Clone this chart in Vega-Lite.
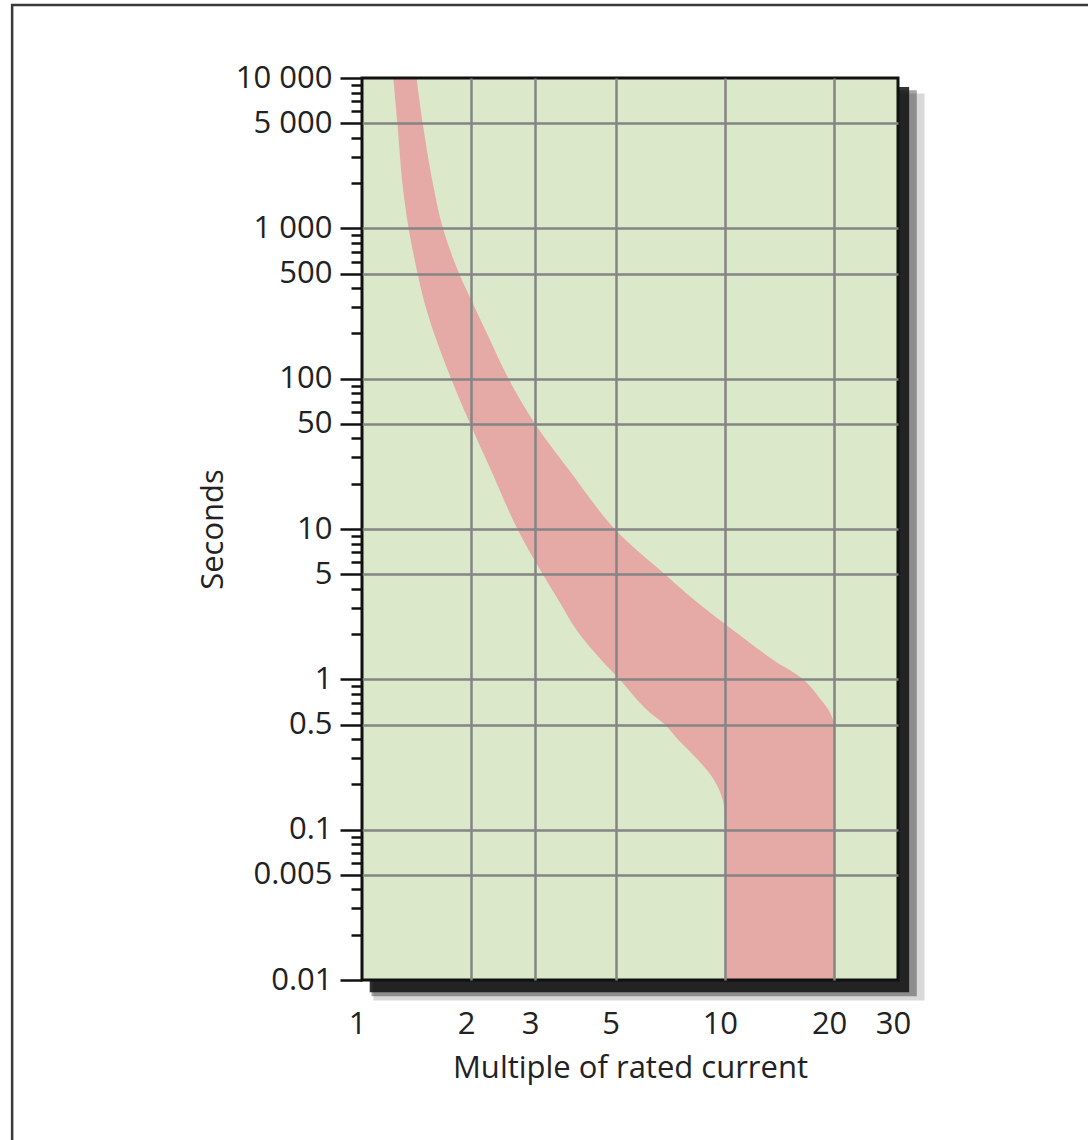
{
  "$schema": "https://vega.github.io/schema/vega-lite/v6.json",
  "width": 536,
  "height": 902,
  "autosize": {"type": "none"},
  "padding": {"left": 362, "top": 78, "right": 190, "bottom": 160},
  "background": "white",
  "config": {"view": {"stroke": null}, "font": "Open Sans"},
  "data": {"values": [
    {"t": 10000, "lo": 1.22, "hi": 1.414},
    {"t": 5000, "lo": 1.252, "hi": 1.47},
    {"t": 2000, "lo": 1.292, "hi": 1.567},
    {"t": 1000, "lo": 1.344, "hi": 1.671},
    {"t": 500, "lo": 1.423, "hi": 1.852},
    {"t": 334, "lo": 1.48, "hi": 2.0},
    {"t": 200, "lo": 1.58, "hi": 2.21},
    {"t": 100, "lo": 1.76, "hi": 2.534},
    {"t": 50, "lo": 1.987, "hi": 3.0},
    {"t": 24.7, "lo": 2.266, "hi": 3.72},
    {"t": 10, "lo": 2.68, "hi": 4.97},
    {"t": 5, "lo": 3.15, "hi": 6.83},
    {"t": 3.37, "lo": 3.477, "hi": 8.24},
    {"t": 2.13, "lo": 3.9, "hi": 10.52},
    {"t": 1.35, "lo": 4.56, "hi": 13.57},
    {"t": 1, "lo": 5.126, "hi": 16.43},
    {"t": 0.73, "lo": 5.737, "hi": 18.42},
    {"t": 0.6, "lo": 6.222, "hi": 19.5},
    {"t": 0.5, "lo": 6.833, "hi": 20},
    {"t": 0.4, "lo": 7.412, "hi": 20},
    {"t": 0.29, "lo": 8.449, "hi": 20},
    {"t": 0.214, "lo": 9.337, "hi": 20},
    {"t": 0.157, "lo": 9.875, "hi": 20},
    {"t": 0.12, "lo": 10, "hi": 20},
    {"t": 0.1, "lo": 10, "hi": 20},
    {"t": 0.01, "lo": 10, "hi": 20}
  ]},
  "layer": [
    {
      "data": {"values": [{}]},
      "mark": {"type": "rect", "clip": false, "filled": false, "stroke": "#3a3a3a", "strokeWidth": 2.5},
      "encoding": {
        "x": {"datum": 0.1086, "type": "quantitative"},
        "x2": {"datum": 200},
        "y": {"datum": 30590, "type": "quantitative"},
        "y2": {"datum": 0.0001}
      }
    },
    {
      "data": {"values": [{}]},
      "mark": {"type": "rect", "clip": false, "fill": "#000", "opacity": 0.15},
      "encoding": {
        "x": {"datum": 1.075, "type": "quantitative"},
        "x2": {"datum": 35.5},
        "y": {"datum": 7900, "type": "quantitative"},
        "y2": {"datum": 0.0073}
      }
    },
    {
      "data": {"values": [{}]},
      "mark": {"type": "rect", "clip": false, "fill": "#000", "opacity": 0.35},
      "encoding": {
        "x": {"datum": 1.062, "type": "quantitative"},
        "x2": {"datum": 33.8},
        "y": {"datum": 8300, "type": "quantitative"},
        "y2": {"datum": 0.0078}
      }
    },
    {
      "data": {"values": [{}]},
      "mark": {"type": "rect", "clip": false, "fill": "#111", "opacity": 0.85},
      "encoding": {
        "x": {"datum": 1.05, "type": "quantitative"},
        "x2": {"datum": 32.2},
        "y": {"datum": 8700, "type": "quantitative"},
        "y2": {"datum": 0.0083}
      }
    },
    {
      "data": {"values": [{}]},
      "mark": {"type": "rect", "clip": false, "fill": "#dbe8c9"},
      "encoding": {
        "x": {"datum": 1, "type": "quantitative"},
        "x2": {"datum": 30},
        "y": {"datum": 10000, "type": "quantitative"},
        "y2": {"datum": 0.01}
      }
    },
    {
      "mark": {"type": "area", "orient": "horizontal", "color": "#e5aaa6", "interpolate": "catmull-rom", "opacity": 1},
      "encoding": {
        "y": {
          "field": "t", "type": "quantitative",
          "scale": {"type": "log", "domain": [0.01, 10000], "nice": false},
          "axis": {
            "title": "Seconds",
            "values": [10000, 9000, 8000, 7000, 6000, 5000, 4000, 3000, 2000, 1000, 900, 800, 700, 600, 500, 400, 300, 200, 100, 90, 80, 70, 60, 50, 40, 30, 20, 10, 9, 8, 7, 6, 5, 4, 3, 2, 1, 0.9, 0.8, 0.7, 0.6, 0.5, 0.4, 0.3, 0.2, 0.1, 0.09, 0.08, 0.07, 0.06, 0.05, 0.04, 0.03, 0.02, 0.01],
            "labelExpr": "datum.value == 10000 ? '10 000' : datum.value == 5000 ? '5 000' : datum.value == 1000 ? '1 000' : datum.value == 0.05 ? '0.005' : indexof([500, 100, 50, 10, 5, 1, 0.5, 0.1, 0.01], datum.value) >= 0 ? '' + datum.value : ''",
            "zindex": 1,
            "domain": false,
            "tickColor": "#111",
            "tickWidth": 2.5,
            "tickSize": {"condition": {"test": "indexof([10000, 5000, 1000, 500, 100, 50, 10, 5, 1, 0.5, 0.1, 0.05, 0.01], datum.value) >= 0", "value": 22}, "value": 11},
            "labelPadding": 8,
            "labelFontSize": 31,
            "labelColor": "#222",
            "labelOverlap": false,
            "labelFlush": false,
            "grid": true,
            "gridColor": "#858585",
            "gridWidth": 2.5,
            "gridOpacity": {"condition": {"test": "indexof([5000, 1000, 500, 100, 50, 10, 5, 1, 0.5, 0.1, 0.05], datum.value) >= 0", "value": 1}, "value": 0},
            "titleFontSize": 31,
            "titleFontWeight": "normal",
            "titleColor": "#222",
            "titlePadding": 6
          }
        },
        "x": {
          "field": "lo", "type": "quantitative",
          "scale": {"type": "log", "domain": [1, 30], "nice": false},
          "axis": {
            "title": "Multiple of rated current",
            "values": [1, 2, 3, 5, 10, 20, 30],
            "labelExpr": "'' + datum.value",
            "zindex": 1,
            "domain": false,
            "ticks": false,
            "tickSize": 0,
            "labelPadding": 29,
            "labelOffset": -5,
            "labelFontSize": 31,
            "labelColor": "#222",
            "labelOverlap": false,
            "labelFlush": false,
            "grid": true,
            "gridColor": "#858585",
            "gridWidth": 2.5,
            "gridOpacity": {"condition": {"test": "datum.value > 1 && datum.value < 30", "value": 1}, "value": 0},
            "titleFontSize": 31,
            "titleFontWeight": "normal",
            "titleColor": "#222",
            "titlePadding": 14
          }
        },
        "x2": {"field": "hi"}
      }
    },
    {
      "data": {"values": [{}]},
      "mark": {"type": "rect", "clip": false, "filled": false, "stroke": "#111", "strokeWidth": 3},
      "encoding": {
        "x": {"datum": 1, "type": "quantitative"},
        "x2": {"datum": 30},
        "y": {"datum": 10000, "type": "quantitative"},
        "y2": {"datum": 0.01}
      }
    }
  ]
}
